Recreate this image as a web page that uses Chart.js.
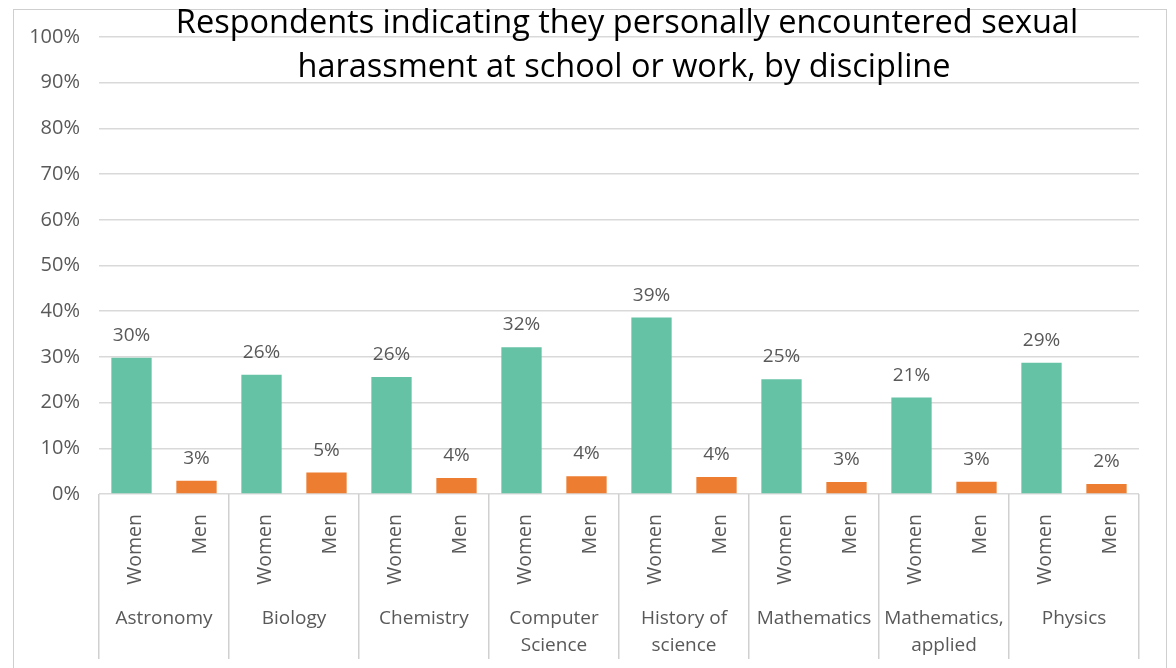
<!DOCTYPE html>
<html>
<head>
<meta charset="utf-8">
<script src="https://cdn.jsdelivr.net/npm/chart.js@4.4.0/dist/chart.umd.min.js"></script>
<style>
    html, body {margin: 0; padding: 0; overflow: hidden;}
    body {background: radial-gradient(circle at 60px 40px, #ececec 0, #f4f4f4 250px, #ffffff 700px);}
    .frame {position: absolute; left: 13px; top: 9px; width: 1152px; height: 700px; border: 1px solid #cfcfcf; background: #ffffff;}
    .chart-wrap {position: absolute; left: 0; top: 0; width: 1176px; height: 668px;}
</style>
</head>
<body>
<div class="frame"></div>
<div class="chart-wrap"><canvas id="harassment-chart"></canvas></div>
<script>
const disciplines = [
    ['Astronomy'], ['Biology'], ['Chemistry'], ['Computer', 'Science'],
    ['History of', 'science'], ['Mathematics'], ['Mathematics,', 'applied'], ['Physics']
];
const sexes = ['Women', 'Men'];
const womenValues = [29.8, 26.1, 25.6, 32.1, 38.6, 25.1, 21.1, 28.7];
const menValues = [2.9, 4.7, 3.5, 3.9, 3.7, 2.6, 2.7, 2.2];
const yTicks = [0, 10, 20, 30, 40, 50, 60, 70, 80, 90, 100];
const titleLines = ['Respondents indicating they personally encountered sexual', 'harassment at school or work, by discipline'];

const GREEN = '#66c2a5';
const ORANGE = '#ed7d31';
const TEXT_GREY = '#595959';
const FONT = "'Open Sans'";

// one bar per (discipline, sex) pair, women first
const barLabels = disciplines.flatMap(() => sexes);
const barValues = disciplines.flatMap((d, i) => [womenValues[i], menValues[i]]);
const barColors = barValues.map((v, i) => i % 2 === 0 ? GREEN : ORANGE);

// separators only between discipline groups (last line has no tick index)
const groupLine = ctx => (ctx.index === undefined || ctx.index % 2 === 0) ? '#d0d0d0' : 'rgba(0,0,0,0)';

const valueLabelsPlugin = {
    id: 'valueLabels',
    afterDatasetsDraw(chart) {
        const ctx = chart.ctx;
        const meta = chart.getDatasetMeta(0);
        ctx.save();
        ctx.font = `19px ${FONT}`;
        ctx.fillStyle = TEXT_GREY;
        ctx.textAlign = 'center';
        ctx.textBaseline = 'alphabetic';
        meta.data.forEach((bar, i) => {
            ctx.fillText(Math.round(barValues[i]) + '%', bar.x, bar.y - 17);
        });
        ctx.restore();
    }
};

const titlePlugin = {
    id: 'overlayTitle',
    afterDraw(chart) {
        const ctx = chart.ctx;
        ctx.save();
        ctx.font = `32.5px ${FONT}`;
        ctx.fillStyle = '#000000';
        ctx.textAlign = 'center';
        ctx.textBaseline = 'alphabetic';
        ctx.fillText(titleLines[0], 627, 33);
        ctx.fillText(titleLines[1], 624, 77);
        ctx.restore();
    }
};

new Chart(document.getElementById('harassment-chart'), {
    type: 'bar',
    data: {
        labels: barLabels,
        datasets: [{
            data: barValues,
            backgroundColor: barColors,
            barPercentage: 0.62,
            categoryPercentage: 1
        }]
    },
    options: {
        responsive: true,
        maintainAspectRatio: false,
        animation: false,
        layout: {padding: {top: 37, right: 37, bottom: 9, left: 0}},
        plugins: {
            legend: {display: false},
            tooltip: {enabled: false}
        },
        scales: {
            y: {
                min: 0,
                max: 100,
                afterBuildTicks: scale => { scale.ticks = yTicks.map(v => ({value: v})); },
                afterFit: scale => { scale.width = 99; },
                border: {display: false},
                grid: {color: '#d9d9d9', lineWidth: 1.5, drawTicks: false},
                ticks: {
                    padding: 19,
                    color: TEXT_GREY,
                    font: {family: FONT, size: 20},
                    callback: v => v + '%'
                }
            },
            x: {
                offset: true,
                afterFit: scale => { scale.height = 106; },
                border: {display: false},
                grid: {offset: true, drawOnChartArea: false, tickLength: 106, lineWidth: 1.5, color: groupLine},
                ticks: {
                    autoSkip: false,
                    minRotation: 90,
                    maxRotation: 90,
                    padding: -86,
                    labelOffset: 4,
                    color: TEXT_GREY,
                    font: {family: FONT, size: 19.5}
                }
            },
            x2: {
                type: 'category',
                position: 'bottom',
                labels: disciplines,
                offset: true,
                afterFit: scale => { scale.height = 59; },
                border: {display: false},
                grid: {offset: true, drawOnChartArea: false, tickLength: 59, lineWidth: 1.5, color: '#d0d0d0'},
                ticks: {
                    autoSkip: false,
                    maxRotation: 0,
                    padding: -54,
                    color: TEXT_GREY,
                    font: {family: FONT, size: 19, lineHeight: 1.42}
                }
            }
        }
    },
    plugins: [valueLabelsPlugin, titlePlugin]
});
</script>
</body>
</html>
